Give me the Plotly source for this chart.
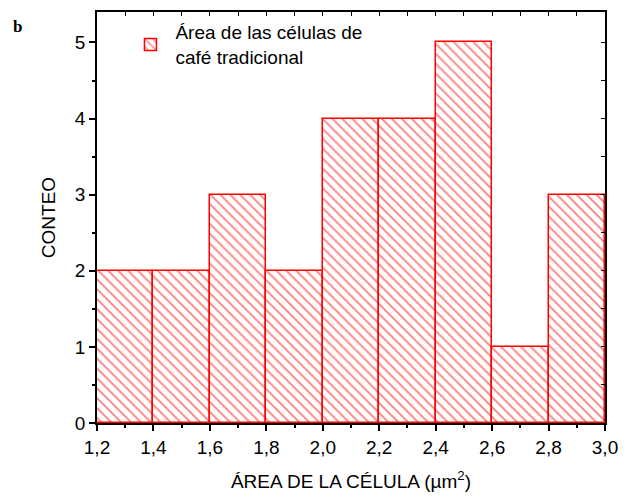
import plotly.graph_objects as go

bin_left = [1.2, 1.4, 1.6, 1.8, 2.0, 2.2, 2.4, 2.6, 2.8]
counts = [2, 2, 3, 2, 4, 4, 5, 1, 3]
bin_width = 0.2
x_ticks = [1.2, 1.4, 1.6, 1.8, 2.0, 2.2, 2.4, 2.6, 2.8, 3.0]
x_ticklabels = ["1,2", "1,4", "1,6", "1,8", "2,0", "2,2", "2,4", "2,6", "2,8", "3,0"]
y_ticks = [0, 1, 2, 3, 4, 5]

fig = go.Figure()
fig.add_trace(go.Bar(
    x=bin_left, y=counts, width=bin_width, offset=0,
    name="Área de las células de<br>café tradicional",
    marker=dict(color="white", line=dict(color="red", width=1.5),
                pattern=dict(shape="\\", fgcolor="red", bgcolor="white", size=7, solidity=0.25)),
))
# invisible trace for mirrored inner-tick axes
fig.add_trace(go.Scatter(x=[1.2], y=[0], xaxis="x2", yaxis="y2", mode="markers",
                         marker=dict(opacity=0), showlegend=False, hoverinfo="skip"))

axis_font = dict(family="Arial", size=19, color="black")
fig.update_layout(
    width=628, height=499,
    margin=dict(l=97, r=15, t=10, b=76),
    paper_bgcolor="white", plot_bgcolor="white",
    font=axis_font,
    bargap=0,
    showlegend=True,
    legend=dict(x=0.056, y=0.997, xanchor="left", yanchor="top",
                bgcolor="rgba(0,0,0,0)", font=dict(family="Arial", size=19),
                itemwidth=40),
    xaxis=dict(range=[1.2, 3.0], tickvals=x_ticks, ticktext=x_ticklabels,
               ticks="outside", ticklen=6, tickwidth=1.5, tickcolor="black",
               showline=True, linecolor="black", linewidth=1.5, mirror=True,
               showgrid=False, zeroline=False,
               minor=dict(dtick=0.1, tick0=1.2, ticks="outside", ticklen=3, tickwidth=1.5, tickcolor="black"),
               title=dict(text="ÁREA DE LA CÉLULA (µm<sup>2</sup>)", font=axis_font, standoff=18)),
    yaxis=dict(range=[0, 5.4], tickvals=y_ticks,
               ticks="outside", ticklen=6, tickwidth=1.5, tickcolor="black",
               showline=True, linecolor="black", linewidth=1.5, mirror=True,
               showgrid=False, zeroline=False,
               minor=dict(dtick=0.5, tick0=0, ticks="outside", ticklen=3, tickwidth=1.5, tickcolor="black"),
               title=dict(text="CONTEO", font=axis_font, standoff=14)),
    xaxis2=dict(overlaying="x", side="top", range=[1.2, 3.0], showticklabels=False,
                tickvals=[1.2 + 0.1 * i for i in range(19)], ticks="inside", ticklen=4,
                tickwidth=1.2, tickcolor="black", showgrid=False, zeroline=False, showline=False),
    yaxis2=dict(overlaying="y", side="right", range=[0, 5.4], showticklabels=False,
                tickvals=[0.5 * i for i in range(11)], ticks="inside", ticklen=4,
                tickwidth=1.2, tickcolor="black", showgrid=False, zeroline=False, showline=False),
    annotations=[dict(text="<b>b</b>", xref="paper", yref="paper",
                      x=(10 - 97) / 516, y=(499 - 76 - 25) / 413,
                      xanchor="left", yanchor="middle",
                      showarrow=False, font=dict(family="Liberation Serif", size=17, color="black"))],
)
fig.write_html("out.html")
